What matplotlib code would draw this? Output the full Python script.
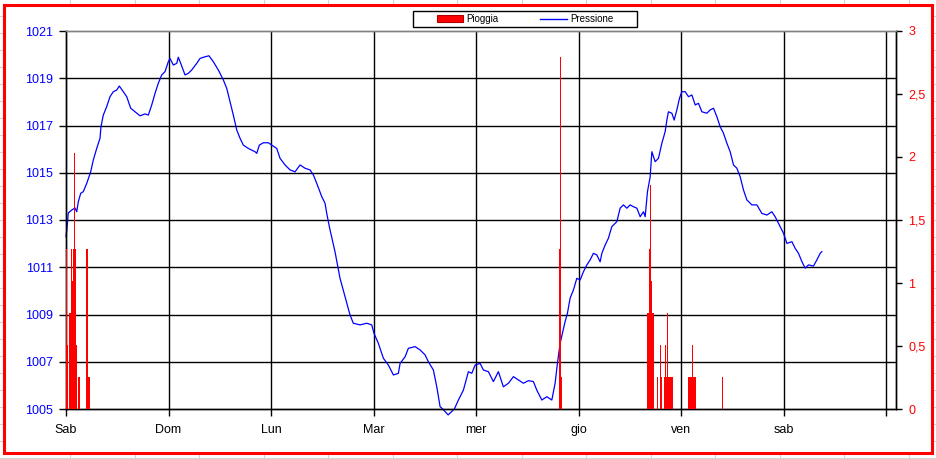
import numpy as np
import matplotlib.pyplot as plt
from matplotlib.patches import Rectangle
from matplotlib.lines import Line2D

plt.rcParams['font.family'] = ['Liberation Sans', 'DejaVu Sans']

# -------------------- DATA --------------------
day_labels = ["Sab", "Dom", "Lun", "Mar", "mer", "gio", "ven", "sab"]

# pressure (hPa), time in hours from the start of Sab
press_h = [0.0, 0.2, 0.54, 1.33, 2.11, 2.51, 2.88, 3.44, 4.05, 4.85, 5.78, 6.39, 7.19, 7.96, 8.19,
           8.73, 9.53, 10.30, 11.08, 11.87, 12.48, 13.42, 14.21, 15.15, 16.16, 17.33, 18.50, 19.27,
           20.07, 20.84, 21.61, 22.41, 23.18, 23.95, 24.35, 25.12, 25.92, 26.29, 26.86, 27.86, 28.64,
           29.43, 30.60, 31.38, 32.55, 33.48, 34.49, 35.66, 36.83, 37.63, 38.40, 39.17, 39.97, 40.74,
           41.51, 42.68, 44.25, 44.65, 45.26, 46.20, 47.37, 48.16, 49.33, 50.11, 51.28, 52.45, 53.62,
           54.79, 55.96, 57.13, 57.90, 58.70, 59.87, 60.64, 61.04, 61.64, 62.98, 64.14, 65.55, 66.49,
           67.26, 68.83, 70.40, 71.57, 72.11, 73.12, 74.29, 75.47, 76.64, 77.81, 78.21, 79.38, 80.15,
           81.72, 82.89, 84.06, 84.83, 86.00, 86.80, 87.57, 88.20, 89.45, 90.92, 91.86, 93.03, 94.20,
           95.00, 95.77, 96.94, 97.71, 98.88, 100.05, 101.22, 102.39, 103.57, 104.74, 105.91, 107.08,
           108.25, 109.42, 110.21, 111.39, 112.56, 113.73, 114.50, 115.04, 115.67, 116.84, 117.38,
           118.01, 118.79, 119.58, 120.36, 121.13, 121.93, 122.70, 123.47, 124.27, 125.04, 125.44,
           126.21, 126.98, 127.78, 128.95, 129.72, 130.50, 131.29, 132.07, 132.84, 133.64, 134.41,
           135.18, 135.58, 136.12, 136.75, 137.15, 137.92, 138.69, 139.49, 140.26, 140.66, 141.03,
           141.83, 142.37, 143.00, 143.61, 144.17, 144.95, 145.72, 146.52, 147.29, 148.06, 148.86,
           150.03, 150.80, 151.58, 152.37, 153.14, 153.92, 154.71, 155.48, 156.26, 157.05, 157.82,
           158.60, 159.39, 160.56, 161.73, 162.90, 164.07, 165.24, 166.01, 166.79, 167.96, 168.76,
           169.93, 170.70, 171.47, 172.27, 173.04, 173.81, 174.98, 175.77, 176.55, 176.94]
press_hpa = [1012.3, 1012.6, 1013.30, 1013.42, 1013.51, 1013.35, 1013.77, 1014.13, 1014.20, 1014.55,
             1015.04, 1015.54, 1016.03, 1016.46, 1016.95, 1017.44, 1017.80, 1018.22, 1018.43, 1018.50,
             1018.67, 1018.43, 1018.22, 1017.73, 1017.58, 1017.41, 1017.49, 1017.44, 1017.87, 1018.36,
             1018.79, 1019.14, 1019.28, 1019.70, 1019.84, 1019.56, 1019.63, 1019.89, 1019.63, 1019.14,
             1019.21, 1019.35, 1019.63, 1019.84, 1019.91, 1019.95, 1019.70, 1019.35, 1018.93, 1018.57,
             1018.01, 1017.44, 1016.81, 1016.46, 1016.17, 1016.03, 1015.89, 1015.82, 1016.17, 1016.27,
             1016.27, 1016.17, 1016.03, 1015.61, 1015.33, 1015.12, 1015.04, 1015.33, 1015.19, 1015.12,
             1014.91, 1014.55, 1013.99, 1013.71, 1013.28, 1012.72, 1011.65, 1010.54, 1009.61, 1008.98,
             1008.63, 1008.56, 1008.63, 1008.56, 1008.20, 1007.78, 1007.15, 1006.86, 1006.44, 1006.51,
             1006.93, 1007.21, 1007.57, 1007.64, 1007.50, 1007.29, 1007.00, 1006.65, 1005.94, 1005.10,
             1005.00, 1004.75, 1005.00, 1005.38, 1005.80, 1006.58, 1006.51, 1006.86, 1006.93, 1006.65,
             1006.58, 1006.16, 1006.58, 1005.94, 1006.09, 1006.37, 1006.23, 1006.09, 1006.20, 1006.16,
             1005.80, 1005.38, 1005.52, 1005.38, 1006.09, 1006.93, 1007.78, 1008.70, 1009.05, 1009.69,
             1010.04, 1010.53, 1010.46, 1010.81, 1011.10, 1011.31, 1011.59, 1011.52, 1011.23, 1011.59,
             1011.94, 1012.23, 1012.72, 1012.93, 1013.50, 1013.64, 1013.50, 1013.64, 1013.56, 1013.50,
             1013.14, 1013.35, 1013.14, 1014.20, 1014.83, 1015.89, 1015.47, 1015.61, 1016.25, 1016.74,
             1017.23, 1017.58, 1017.52, 1017.23, 1017.66, 1018.15, 1018.43, 1018.43, 1018.22, 1018.29,
             1017.87, 1017.94, 1017.58, 1017.52, 1017.66, 1017.73, 1017.37, 1016.95, 1016.67, 1016.25,
             1015.89, 1015.33, 1015.19, 1014.83, 1014.27, 1013.85, 1013.64, 1013.64, 1013.28, 1013.21,
             1013.35, 1013.14, 1012.86, 1012.44, 1012.01, 1012.08, 1011.80, 1011.59, 1011.24, 1010.96,
             1011.10, 1011.05, 1011.31, 1011.59, 1011.66]

# rain (mm) per sample
rain_h = [0.05, 0.23, 0.42, 0.89, 1.05, 1.22, 1.36, 1.52, 1.64, 1.80, 1.94, 2.06, 2.22, 2.41,
          2.93, 3.16, 4.92, 5.10, 5.34, 5.53,
          115.49, 115.67, 115.72, 115.93, 116.07,
          136.26, 136.45, 136.59, 136.80, 136.94, 137.06, 137.23, 137.41, 138.42, 139.12, 139.28,
          139.45, 140.06, 140.22, 140.29, 140.46, 140.62, 140.78, 140.93, 141.09, 141.25, 141.42,
          141.58, 141.75, 141.91, 145.77, 145.93, 146.10, 146.26, 146.42, 146.61, 146.78, 146.94,
          147.10, 147.27, 147.41, 153.64]
rain_mm = [1.27, 0.508, 0.508, 0.762, 0.762, 1.27, 1.27, 1.016, 1.016, 1.27, 2.032, 1.27, 1.27, 0.508,
           0.254, 0.254, 1.27, 0.254, 0.254, 0.254,
           1.27, 1.27, 2.794, 0.254, 0.254,
           0.762, 0.762, 1.27, 1.778, 1.016, 1.016, 0.762, 0.762, 0.254, 0.508, 0.254,
           0.254, 0.254, 0.254, 0.508, 0.254, 0.254, 0.762, 0.254, 0.254, 0.254, 0.254,
           0.254, 0.254, 0.254, 0.254, 0.254, 0.254, 0.254, 0.254, 0.508, 0.254, 0.254,
           0.254, 0.254, 0.254, 0.254]

press_ticks = [1005, 1007, 1009, 1011, 1013, 1015, 1017, 1019, 1021]
rain_ticks = [0, 0.5, 1, 1.5, 2, 2.5, 3]
rain_tick_labels = ["0", "0,5", "1", "1,5", "2", "2,5", "3"]

# -------------------- FIGURE --------------------
W, H = 936, 459
fig = plt.figure(figsize=(W / 100, H / 100), dpi=100)

# spreadsheet cell lines around the chart object
for yy in np.arange(16.3, H, 17):
    fig.add_artist(Line2D([0, 1], [1 - yy / H] * 2, color='#d4d4d4', lw=0.8, zorder=0))
for xx in np.arange(70, W, 64.5):
    fig.add_artist(Line2D([xx / W] * 2, [0, 1], color='#d4d4d4', lw=0.8, zorder=0))
fig.add_artist(Rectangle((4 / W, 1 - 453 / H), 928 / W, 448 / H, transform=fig.transFigure,
                         facecolor='white', edgecolor='red', lw=2.2, zorder=1))

ax = fig.add_axes([66 / W, 1 - 409 / H, 830 / W, 378 / H], zorder=2)
ax.patch.set_alpha(0)
ax2 = ax.twinx()

ax.plot(press_h, press_hpa, color='#0000ff', lw=0.9, clip_on=False, zorder=3, label="Pressione")
ax.set_ylim(1005, 1021)
ax.set_xlim(0, 194.3)
ax.set_yticks(press_ticks)
ax.set_xticks(np.arange(0, 193, 24))
ax.set_xticklabels(day_labels + [""])
for v in press_ticks[1:-1]:
    ax.axhline(v, color='black', lw=1, zorder=1)
for d in range(1, 9):
    ax.axvline(d * 24, color='black', lw=1, zorder=1)

bars = ax2.bar(rain_h, rain_mm, width=0.3, color='#ff0000', lw=0, label="Pioggia", zorder=4)
ax2.set_ylim(0, 3)
ax2.set_yticks(rain_ticks)
ax2.set_yticklabels(rain_tick_labels)

for a in (ax, ax2):
    for s in a.spines.values():
        s.set_color('black')
        s.set_linewidth(1)
    a.spines['top'].set_color('#808080')

ax.tick_params(axis='y', direction='out', length=5, width=1, pad=4.5, labelsize=9,
               labelcolor='#0000ff')
ax.tick_params(axis='x', direction='out', length=5, width=1, pad=6, labelsize=9,
               labelcolor='black')
ax2.tick_params(axis='y', direction='out', length=4, width=1, pad=5, labelsize=9,
                labelcolor='#ff0000')

# legend box above the plot
fig.add_artist(Rectangle((413 / W, 1 - 27 / H), 224 / W, 16 / H, transform=fig.transFigure,
                         facecolor='white', edgecolor='black', lw=1, zorder=5))
leg_handles = [Rectangle((0, 0), 1, 1, facecolor='#ff0000', edgecolor='#b00000', lw=0.8),
               Line2D([], [], color='#0000ff', lw=1)]
leg = fig.legend(leg_handles, ["Pioggia", "Pressione"], loc='center',
                 bbox_to_anchor=(525 / W, 1 - 19 / H), ncol=2, frameon=False, fontsize=7,
                 handlelength=2.7, handletextpad=0.35, columnspacing=4.3, borderpad=0.1)
leg.set_zorder(6)

fig.savefig("out.png", dpi=100)
